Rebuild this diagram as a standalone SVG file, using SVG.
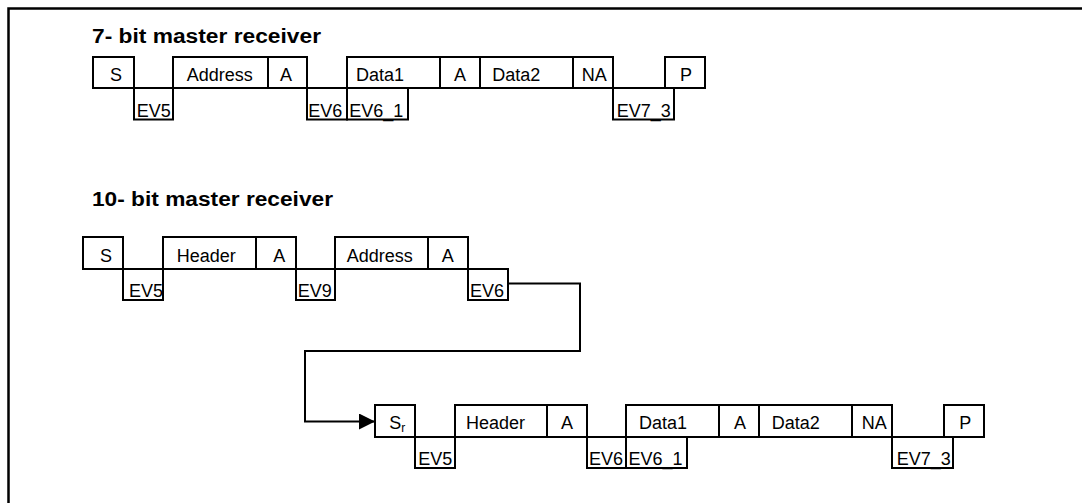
<svg xmlns="http://www.w3.org/2000/svg" width="1082" height="503" viewBox="0 0 1082 503">
<defs>
<style>
.b{fill:#fff;stroke:#000;stroke-width:2}
.t{font-family:"Liberation Sans",Arial,sans-serif;font-size:18px;fill:#000}
.h{font-family:"Liberation Sans",Arial,sans-serif;font-size:20px;font-weight:bold;fill:#000}
.c{fill:none;stroke:#000;stroke-width:2}
</style>
<marker id="arr" markerUnits="userSpaceOnUse" markerWidth="16" markerHeight="16" viewBox="0 0 15 15" refX="15" refY="7.5" orient="auto">
<path d="M0,0 L15,7.5 L0,15 Z" fill="#000"/>
</marker>
</defs>
<rect width="1082" height="503" fill="#fff"/>
<path d="M8.5,503 V8.5 H1082" fill="none" stroke="#000" stroke-width="2.5"/>

<text class="h" x="92" y="42.7" textLength="229" lengthAdjust="spacingAndGlyphs">7- bit master receiver</text>
<text class="h" x="92" y="206" textLength="241" lengthAdjust="spacingAndGlyphs">10- bit master receiver</text>

<g id="connectors">
<path class="c" d="M508,283.5 H580 V351 H305 V421.5 H375" marker-end="url(#arr)"/>
</g>

<!-- 7-bit -->
<g id="a-S"><rect class="b" x="93" y="57" width="41" height="31"/><text class="t" x="110" y="81">S</text></g>
<g id="a-EV5"><rect class="b" x="134" y="88" width="39" height="31.5"/><text class="t" x="136.7" y="117">EV5</text></g>
<g id="a-Address"><rect class="b" x="173" y="57" width="95" height="31"/><text class="t" x="186.7" y="81">Address</text></g>
<g id="a-A1"><rect class="b" x="268" y="57" width="39" height="31"/><text class="t" x="280" y="81">A</text></g>
<g id="a-EV6"><rect class="b" x="307" y="88" width="40" height="31.5"/><text class="t" x="308.3" y="117">EV6</text></g>
<g id="a-Data1"><rect class="b" x="347" y="57" width="93" height="31"/><text class="t" x="356" y="81">Data1</text></g>
<g id="a-EV6_1"><rect class="b" x="347" y="88" width="61" height="31.5"/><text class="t" x="349.3" y="117">EV6_1</text></g>
<g id="a-A2"><rect class="b" x="440" y="57" width="40" height="31"/><text class="t" x="454" y="81">A</text></g>
<g id="a-Data2"><rect class="b" x="480" y="57" width="93" height="31"/><text class="t" x="492.3" y="81">Data2</text></g>
<g id="a-NA"><rect class="b" x="573" y="57" width="40" height="31"/><text class="t" x="581.7" y="81">NA</text></g>
<g id="a-EV7_3"><rect class="b" x="613" y="88" width="61" height="31.5"/><text class="t" x="616.7" y="117">EV7_3</text></g>
<g id="a-P"><rect class="b" x="665" y="57" width="40" height="31"/><text class="t" x="680" y="81">P</text></g>

<!-- 10-bit first line -->
<g id="b-S"><rect class="b" x="83" y="237" width="40" height="32"/><text class="t" x="100" y="261.5">S</text></g>
<g id="b-EV5"><rect class="b" x="123" y="269" width="40" height="31"/><text class="t" x="129" y="297">EV5</text></g>
<g id="b-Header"><rect class="b" x="163" y="237" width="93" height="32"/><text class="t" x="176.7" y="261.5">Header</text></g>
<g id="b-A1"><rect class="b" x="256" y="237" width="40" height="32"/><text class="t" x="273.3" y="261.5">A</text></g>
<g id="b-EV9"><rect class="b" x="296" y="269" width="39" height="31"/><text class="t" x="297.7" y="297">EV9</text></g>
<g id="b-Address"><rect class="b" x="335" y="237" width="93" height="32"/><text class="t" x="346.7" y="261.5">Address</text></g>
<g id="b-A2"><rect class="b" x="428" y="237" width="40" height="32"/><text class="t" x="441.7" y="261.5">A</text></g>
<g id="b-EV6"><rect class="b" x="468" y="269" width="40" height="31"/><text class="t" x="470" y="297">EV6</text></g>

<!-- 10-bit second line -->
<g id="c-Sr"><rect class="b" x="375" y="405" width="40" height="32"/><text class="t" x="389.3" y="429">S<tspan font-size="12" dy="3">r</tspan></text></g>
<g id="c-EV5"><rect class="b" x="415" y="437" width="40" height="31"/><text class="t" x="418.3" y="465">EV5</text></g>
<g id="c-Header"><rect class="b" x="455" y="405" width="92" height="32"/><text class="t" x="466" y="429">Header</text></g>
<g id="c-A1"><rect class="b" x="547" y="405" width="40" height="32"/><text class="t" x="561" y="429">A</text></g>
<g id="c-EV6"><rect class="b" x="587" y="437" width="39" height="31"/><text class="t" x="589" y="465">EV6</text></g>
<g id="c-Data1"><rect class="b" x="626" y="405" width="93" height="32"/><text class="t" x="639" y="429">Data1</text></g>
<g id="c-EV6_1"><rect class="b" x="626" y="437" width="61" height="31"/><text class="t" x="628.5" y="465">EV6_1</text></g>
<g id="c-A2"><rect class="b" x="719" y="405" width="40" height="32"/><text class="t" x="734" y="429">A</text></g>
<g id="c-Data2"><rect class="b" x="759" y="405" width="93" height="32"/><text class="t" x="771.7" y="429">Data2</text></g>
<g id="c-NA"><rect class="b" x="852" y="405" width="40" height="32"/><text class="t" x="861.7" y="429">NA</text></g>
<g id="c-EV7_3"><rect class="b" x="892" y="437" width="61" height="31"/><text class="t" x="896.7" y="465">EV7_3</text></g>
<g id="c-P"><rect class="b" x="944" y="405" width="40" height="32"/><text class="t" x="959.3" y="429">P</text></g>
</svg>
